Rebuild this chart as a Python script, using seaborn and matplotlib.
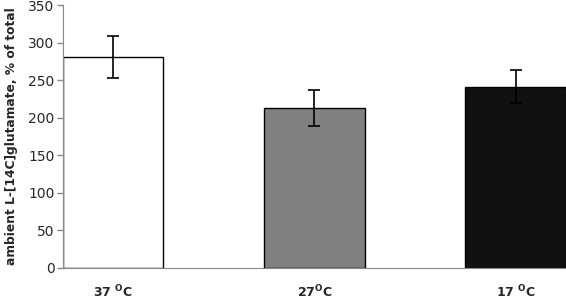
import matplotlib
matplotlib.use("Agg")
import matplotlib.pyplot as plt
import seaborn as sns
import pandas as pd

# data
temps = ["37 $^{\\mathbf{O}}$C", "27$^{\\mathbf{O}}$C", "17 $^{\\mathbf{O}}$C"]
values = [281, 213, 241]
errors = [28, 24, 22]
bar_colors = ["#ffffff", "#808080", "#111111"]

df = pd.DataFrame({"temp": temps, "value": values})

sns.set_style("white")
plt.rcParams["font.family"] = ["DejaVu Sans"]
plt.rcParams["mathtext.fontset"] = "dejavusans"

fig = plt.figure(figsize=(5.66, 2.99), dpi=100)
ax = fig.add_axes([0.111, 0.104, 0.889, 0.879])

sns.barplot(data=df, x="temp", y="value", hue="temp", palette=bar_colors,
            width=0.5, edgecolor="black", linewidth=1.0, legend=False, ax=ax)
ax.errorbar(range(len(values)), values, yerr=errors, fmt="none",
            ecolor="black", elinewidth=1.2, capsize=4, capthick=1.2)

ax.set_xlim(-0.25, 2.25)
ax.set_ylim(0, 350)
ax.set_yticks(range(0, 351, 50))
ax.set_xlabel("")
ax.set_ylabel("ambient L-[14C]glutamate, % of total", fontsize=8.8,
              fontweight="bold", labelpad=7)
ax.tick_params(axis="y", labelsize=10, left=True, length=4, color="#888888",
               width=1, pad=2)
ax.tick_params(axis="x", labelsize=9, bottom=False, pad=8)
for lab in ax.get_xticklabels():
    lab.set_fontweight("bold")

sns.despine(ax=ax, top=True, right=True)
ax.spines["left"].set_color("#888888")
ax.spines["bottom"].set_color("#888888")

fig.savefig("out.png", dpi=100)
